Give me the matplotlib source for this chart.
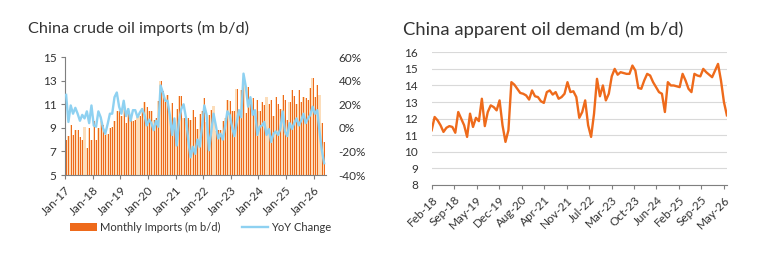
import matplotlib
matplotlib.use("Agg")
import matplotlib.pyplot as plt
from matplotlib.patches import Patch
from matplotlib.lines import Line2D
import numpy as np

plt.rcParams['font.family'] = ['Lato', 'DejaVu Sans']

# ---------------- data ----------------
imports_title = "China crude oil imports (m b/d)"
demand_title = "China apparent oil demand (m b/d)"

imports_ticklabels = ["Jan-17", "Jan-18", "Jan-19", "Jan-20", "Jan-21",
                      "Jan-22", "Jan-23", "Jan-24", "Jan-25", "Jan-26"]

# monthly imports Jan-17 .. May-26 (m b/d)
monthly_imports = [
    8.0, 8.3, 9.2, 8.4, 8.8, 8.8, 8.2, 8.0, 9.05, 7.3, 9.0, 8.0,        # 2017
    9.6, 8.0, 9.0, 9.6, 9.2, 8.4, 8.5, 9.0, 9.1, 9.6, 10.4, 10.4,      # 2018
    10.0, 10.6, 9.4, 10.7, 9.7, 9.6, 9.7, 9.9, 10.0, 10.7, 11.2, 10.8,  # 2019
    10.4, 10.4, 9.7, 9.8, 11.3, 13.0, 12.1, 11.2, 11.8, 10.0, 11.1, 9.0,  # 2020
    10.6, 11.7, 11.7, 9.8, 9.5, 9.8, 9.7, 10.5, 9.9, 8.9, 10.2, 10.4,   # 2021
    11.5, 9.5, 10.1, 10.5, 10.85, 8.7, 8.8, 8.8, 9.6, 9.8, 11.4, 11.3,  # 2022
    10.4, 10.4, 12.3, 10.4, 12.2, 12.7, 10.3, 12.5, 11.0, 11.5, 10.3, 11.4,  # 2023
    10.4, 11.2, 10.9, 11.6, 11.0, 11.35, 10.0, 11.6, 11.0, 10.6, 11.8, 11.4,  # 2024
    9.7, 11.2, 12.2, 11.7, 11.0, 12.2, 11.2, 11.6, 11.5, 11.4, 12.4, 13.2,   # 2025
    11.6, 12.6, 11.8, 9.4, 7.8,                                          # 2026
]

# YoY change (%) Jan-17 .. May-26
yoy_change = [
    28, 5, 19, 12, 17, 12, 6, 11, 8, 14, 4, 19,
    2, 1, 14, 9, 0, -5, 3, 12, 12, 26, 30, 18,
    12, 23, 10, 16, 6, 15, 15, 9, 13, 16, 11, 2,
    7, 4, -2, 6, 1, 36, 30, 23, 23, 11, -6, 8,
    -15, 6, 16, 20, 9, -10, -25, -16, -22, -10, -16, 1,
    19, 11, -19, -3, 12, 2, -9, -5, -10, 1, 14, 11,
    1, -7, 4, 15, 9, 46, 35, 18, 26, 11, 15, -6,
    1, 2, 5, -6, -1, -12, -5, -3, -6, -1, 14, -3,
    -7, 4, -1, 4, 8, 2, 6, 12, 4, 8, 11, 18,
    12, 15, -3, -19, -30,
]

demand_ticklabels = ["Feb-18", "Sep-18", "May-19", "Dec-19", "Aug-20", "Apr-21",
                     "Nov-21", "Jul-22", "Mar-23", "Oct-23", "Jun-24", "Feb-25",
                     "Sep-25", "May-26"]

# apparent oil demand, monthly from Feb-18 (m b/d)
apparent_demand = [
    11.3, 12.1, 11.9, 11.6, 11.2, 11.45, 11.55, 11.5, 11.15, 12.4,
    12.0, 11.6, 10.9, 12.3, 11.5, 12.05, 11.85, 13.2, 11.55, 12.4,
    12.8, 12.7, 12.5, 13.1, 11.6, 10.6, 11.3, 14.2, 14.05, 13.8,
    13.55, 13.5, 13.4, 13.15, 13.7, 13.35, 13.3, 13.05, 12.95, 13.6,
    13.7, 13.45, 13.6, 13.2, 13.3, 13.5, 14.2, 13.6, 13.65, 13.3,
    12.05, 12.4, 13.1, 11.6, 10.9, 12.3, 14.4, 13.35, 14.0, 13.1,
    13.5, 14.55, 15.0, 14.65, 14.8, 14.75, 14.7, 14.7, 15.2, 14.9,
    13.85, 13.8, 14.3, 14.7, 14.6, 14.2, 13.9, 13.6, 13.5, 12.4,
    14.2, 14.0, 14.0, 13.95, 13.9, 14.7, 14.3, 13.8, 13.6, 14.7,
    14.6, 14.55, 15.0, 14.8, 14.65, 14.5, 14.9, 15.3, 14.3, 13.0,
    12.2,
]

# ---------------- style ----------------
ORANGE = "#EE6A1B"
PEACH = "#FCDDBA"
BLUE = "#8ED1F1"
TXT = "#333333"
SPINE = "#7f7f7f"
GRID = "#D9D9D9"

fig = plt.figure(figsize=(7.67, 2.62), dpi=100)

# ---------------- left chart ----------------
ax = fig.add_axes([0.0847, 0.332, 0.3403, 0.450])
x = np.arange(len(monthly_imports))
ax.bar(x, monthly_imports, width=1.0, color=PEACH, linewidth=0, zorder=1)
ax.bar(x + 0.2, monthly_imports, width=0.42, color=ORANGE, linewidth=0, zorder=2)
ax.set_ylim(5, 15)
ax.set_yticks([5, 7, 9, 11, 13, 15])
ax.set_xlim(-0.5, 112.8)
ax.set_xticks(np.arange(len(imports_ticklabels)) * 12 - 0.5)
ax.set_xticklabels(imports_ticklabels, rotation=45, ha="right",
                   rotation_mode="anchor")
for s in ["top", "right"]:
    ax.spines[s].set_visible(False)
for s in ["left", "bottom"]:
    ax.spines[s].set_color(SPINE)
    ax.spines[s].set_linewidth(0.8)
ax.tick_params(axis="both", colors=SPINE, labelcolor=TXT, labelsize=8.5,
               length=3, width=0.8)
ax.tick_params(axis="y", pad=3)

ax2 = ax.twinx()
ax2.plot(x, yoy_change, color=BLUE, lw=1.7, zorder=3)
ax2.set_ylim(-40, 60)
ax2.set_yticks([-40, -20, 0, 20, 40, 60])
ax2.set_yticklabels([f"{v}%" for v in [-40, -20, 0, 20, 40, 60]])
for s in ["top", "right", "left", "bottom"]:
    ax2.spines[s].set_visible(False)
ax2.tick_params(axis="y", length=0, labelcolor=TXT, labelsize=8.5, pad=9)

fig.text(0.036, 0.893, imports_title, fontsize=11.7, color=TXT, va="center")

handles = [Patch(facecolor=ORANGE, edgecolor="none"),
           Line2D([0], [0], color=BLUE, lw=1.7)]
fig.legend(handles, ["Monthly Imports (m b/d)", "YoY Change"],
           loc="center left", bbox_to_anchor=(0.081, 0.133), ncol=2,
           frameon=False, fontsize=8, handlelength=2.4, handleheight=0.7,
           columnspacing=1.9, handletextpad=0.3, labelcolor=TXT,
           borderpad=0.2)

# ---------------- right chart ----------------
bx = fig.add_axes([0.5628, 0.2939, 0.3849, 0.5065])
xd = np.arange(len(apparent_demand))
bx.plot(xd, apparent_demand, color=ORANGE, lw=1.7, zorder=3)
bx.set_ylim(8, 16)
bx.set_yticks(range(8, 17))
bx.set_xlim(0, 100)
bx.set_xticks(np.linspace(0, 99, len(demand_ticklabels)))
bx.set_xticklabels(demand_ticklabels, rotation=45, ha="right",
                   rotation_mode="anchor")
bx.grid(axis="y", color=GRID, lw=0.8)
bx.set_axisbelow(True)
for s in ["top", "right", "left"]:
    bx.spines[s].set_visible(False)
bx.spines["bottom"].set_color(SPINE)
bx.spines["bottom"].set_linewidth(0.8)
bx.tick_params(axis="x", colors=SPINE, labelcolor=TXT, labelsize=8.5,
               length=3, width=0.8)
bx.tick_params(axis="y", length=0, labelcolor=TXT, labelsize=8.5, pad=10)

fig.text(0.525, 0.885, demand_title, fontsize=13.2, color=TXT, va="center")

fig.savefig("out.png", dpi=100)
